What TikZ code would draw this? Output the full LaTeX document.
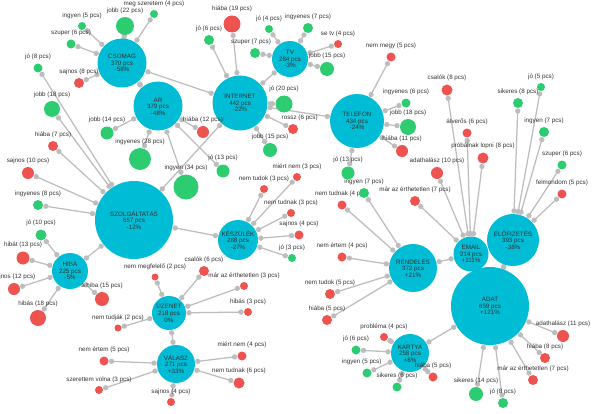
\documentclass[tikz,border=0pt]{standalone}
\usepackage{fontspec}
\setmainfont{Liberation Sans}
\pgfdeclarelayer{bg}
\pgfsetlayers{bg,main}
\definecolor{hubc}{HTML}{00BCD4}
\definecolor{grn}{HTML}{2ECC71}
\definecolor{rd}{HTML}{EF5350}
\definecolor{gl}{HTML}{BDBDBD}
\definecolor{txt}{HTML}{333333}
\newcommand\E[2]{\draw[lnk] (#1) -- (#2) node[gd,pos=0]{} node[gd,pos=1]{};}
\begin{document}
\begin{tikzpicture}[x=0.75pt,y=-0.75pt,
 every node/.style={font=\fontsize{4.7pt}{5pt}\selectfont, text=txt},
 hub/.style={circle,fill=hubc,inner sep=0pt,outer sep=2.25pt,align=center},
 leaf/.style={circle,inner sep=0pt,outer sep=2.25pt,label distance=-2.25pt},
 lg/.style={leaf,fill=grn},
 lr/.style={leaf,fill=rd},
 rad/.style={minimum size=1.5pt*#1},
 every label/.style={inner sep=0.2pt},
 gd/.style={circle,fill=gl,inner sep=0pt,minimum size=4pt,outer sep=0pt},
 lnk/.style={draw=gl,line width=0.95pt}]
\useasboundingbox (0,0) rectangle (600,414);
% hubs
\node[hub,rad=24.5] (cs) at (122,63) {CSOMAG\\370 pcs\\-58\%};
\node[hub,rad=24.5] (ar) at (158,106) {ÁR\\379 pcs\\-48\%};
\node[hub,rad=27.5] (int) at (240,103) {INTERNET\\442 pcs\\-22\%};
\node[hub,rad=18] (tv) at (290,59) {TV\\284 pcs\\-3\%};
\node[hub,rad=27] (tel) at (357,121) {TELEFON\\434 pcs\\-24\%};
\node[hub,rad=39] (sz) at (134,220) {SZOLGÁLTATÁS\\657 pcs\\-12\%};
\node[hub,rad=20] (kesz) at (238,240) {KÉSZÜLÉK\\288 pcs\\-27\%};
\node[hub,rad=18] (hiba) at (70,271) {HIBA\\225 pcs\\-5\%};
\node[hub,rad=17] (uz) at (169,313) {ÜZENET\\218 pcs\\0\%};
\node[hub,rad=19] (val) at (176,364) {VÁLASZ\\271 pcs\\+33\%};
\node[hub,rad=24] (ren) at (413,268) {RENDELÉS\\372 pcs\\+21\%};
\node[hub,rad=17.5] (em) at (471,254) {EMAIL\\214 pcs\\+111\%};
\node[hub,rad=26] (elo) at (513,240) {ELŐFIZETÉS\\393 pcs\\-38\%};
\node[hub,rad=39] (adat) at (490,306) {ADAT\\659 pcs\\+121\%};
\node[hub,rad=19] (kar) at (410,353) {KÁRTYA\\258 pcs\\+8\%};
% CSOMAG leaves
\node[lg,rad=4,label={above:meg szeretem (4 pcs)}] (c1) at (154,14) {};
\node[lg,rad=9,label={above:jobb (22 pcs)}] (c2) at (125,26) {};
\node[lg,rad=4,label={above:ingyen (5 pcs)}] (c3) at (82,26) {};
\node[lg,rad=4.5,label={above:szuper (6 pcs)}] (c4) at (71,44) {};
\node[lr,rad=5,label={above:sajnos (8 pcs)}] (c5) at (79,83) {};
% SZOLGALTATAS leaves
\node[lg,rad=4.5,label={above:jó (8 pcs)}] (s1) at (38,68) {};
\node[lg,rad=8,label={above:jobb (18 pcs)}] (s2) at (52,109) {};
\node[lr,rad=5,label={above:hiába (7 pcs)}] (s3) at (53,146) {};
\node[lr,rad=6,label={above:sajnos (10 pcs)}] (s4) at (28,173) {};
\node[lg,rad=5,label={above:ingyenes (8 pcs)}] (s5) at (38,205) {};
% AR leaves
\node[lg,rad=6.5,label={above:jobb (14 pcs)}] (a1) at (107,133) {};
\node[lg,rad=11,label={above:ingyenes (28 pcs)}] (a2) at (140,159) {};
\node[lg,rad=12.5,label={above:ingyen (34 pcs)}] (a3) at (186,187) {};
\node[lr,rad=6,label={above:hiába (12 pcs)}] (a4) at (203,132) {};
\node[lg,rad=6.5,label={above:jó (13 pcs)}] (a5) at (223,171) {};
% INTERNET leaves
\node[lr,rad=8.5,label={above:hiába (19 pcs)}] (i1) at (232,24) {};
\node[lg,rad=5,label={above:jó (6 pcs)}] (i2) at (209,40) {};
\node[lg,rad=8.5,label={above:jó (20 pcs)}] (i3) at (284,104) {};
\node[lr,rad=5,label={[xshift=5pt]above:rossz (6 pcs)}] (i4) at (293,129) {};
\node[lg,rad=7,label={above:jobb (15 pcs)}] (i5) at (270,150) {};
% TV leaves
\node[lg,rad=4,label={above:jó (4 pcs)}] (t1) at (269,29) {};
\node[lg,rad=5,label={above:ingyenes (7 pcs)}] (t2) at (308,28) {};
\node[lg,rad=5,label={[xshift=-3pt]above:szuper (7 pcs)}] (t3) at (255,53) {};
\node[lr,rad=4,label={above:se tv (4 pcs)}] (t4) at (338,44) {};
\node[lg,rad=7,label={above:jobb (15 pcs)}] (t5) at (327,69) {};
% TELEFON leaves
\node[lr,rad=4.5,label={above:nem megy (5 pcs)}] (p1) at (391,57) {};
\node[lg,rad=4.5,label={above:ingyenes (6 pcs)}] (p2) at (406,103) {};
\node[lg,rad=8,label={above:jobb (18 pcs)}] (p3) at (408,127) {};
\node[lr,rad=6,label={above:hiába (11 pcs)}] (p4) at (402,151) {};
\node[lg,rad=6.5,label={above:jó (13 pcs)}] (p5) at (348,173) {};
% KESZULEK leaves
\node[lr,rad=4,label={above:miért nem (3 pcs)}] (k1) at (297,177) {};
\node[lr,rad=4,label={above:nem tudok (3 pcs)}] (k2) at (264,189) {};
\node[lr,rad=4,label={above:nem tudnak (3 pcs)}] (k3) at (291,213) {};
\node[lr,rad=4.5,label={above:sajnos (4 pcs)}] (k4) at (299,235) {};
\node[lg,rad=4,label={above:jó (3 pcs)}] (k5) at (292,258) {};
% HIBA leaves
\node[lg,rad=5.5,label={above:jó (10 pcs)}] (h1) at (41,235) {};
\node[lr,rad=6.5,label={above:hibát (13 pcs)}] (h2) at (23,258) {};
\node[lr,rad=6,label={above:sajnos (12 pcs)}] (h3) at (14,289) {};
\node[lr,rad=8,label={above:hibás (18 pcs)}] (h4) at (38,318) {};
\node[lr,rad=7,label={above:a hiba (15 pcs)}] (h5) at (102,299) {};
% UZENET leaves
\node[lr,rad=3.5,label={above:nem megfelelő (2 pcs)}] (u1) at (155,277) {};
\node[lr,rad=5,label={above:csalók (6 pcs)}] (u2) at (204,271) {};
\node[lr,rad=4,label={above:már az érthetetlen (3 pcs)}] (u3) at (244,286) {};
\node[lr,rad=4,label={above:hibás (3 pcs)}] (u4) at (248,312) {};
\node[lr,rad=3.5,label={above:nem tudják (2 pcs)}] (u5) at (118,328) {};
% VALASZ leaves
\node[lr,rad=4.5,label={above:nem értem (5 pcs)}] (v1) at (104,361) {};
\node[lr,rad=4,label={above:szerettem volna (3 pcs)}] (v2) at (99,390) {};
\node[lr,rad=4,label={above:sajnos (4 pcs)}] (v3) at (171,402) {};
\node[lr,rad=4.5,label={above:miért nem (4 pcs)}] (v4) at (242,356) {};
\node[lr,rad=5.5,label={above:nem tudnak (6 pcs)}] (v5) at (239,383) {};
% RENDELES leaves
\node[lr,rad=4.5,label={above:nem tudnak (4 pcs)}] (r1) at (342,205) {};
\node[lg,rad=5,label={above:ingyen (7 pcs)}] (r2) at (364,193) {};
\node[lr,rad=4.5,label={above:nem értem (4 pcs)}] (r3) at (342,257) {};
\node[lr,rad=5,label={above:nem tudok (5 pcs)}] (r4) at (330,294) {};
\node[lr,rad=5,label={above:hiába (5 pcs)}] (r5) at (327,320) {};
% EMAIL leaves
\node[lr,rad=5,label={above:már az érthetetlen (7 pcs)}] (e1) at (415,201) {};
\node[lr,rad=6,label={above:adathalász (10 pcs)}] (e2) at (437,173) {};
\node[lr,rad=5.5,label={above:csalók (8 pcs)}] (e3) at (447,90) {};
\node[lr,rad=4.5,label={above:átverős (6 pcs)}] (e4) at (467,133) {};
\node[lr,rad=5.5,label={above:próbálnak lopni (8 pcs)}] (e5) at (483,158) {};
% ELOFIZETES leaves
\node[lg,rad=4,label={above:jó (5 pcs)}] (f1) at (541,87) {};
\node[lg,rad=5,label={above:sikeres (8 pcs)}] (f2) at (518,103) {};
\node[lg,rad=5,label={above:ingyen (7 pcs)}] (f3) at (544,132) {};
\node[lg,rad=4.5,label={above:szuper (6 pcs)}] (f4) at (562,165) {};
\node[lr,rad=4.5,label={above:felmondom (5 pcs)}] (f5) at (562,194) {};
% ADAT leaves
\node[lr,rad=6,label={above:adathalász (11 pcs)}] (d1) at (563,336) {};
\node[lr,rad=5,label={above:hiába (8 pcs)}] (d2) at (545,358) {};
\node[lr,rad=5,label={above:már az érthetetlen (7 pcs)}] (d3) at (533,380) {};
\node[lg,rad=7,label={above:sikeres (14 pcs)}] (d4) at (476,394) {};
\node[lg,rad=5,label={above:jó (8 pcs)}] (d5) at (503,403) {};
% KARTYA leaves
\node[lr,rad=4,label={above:probléma (4 pcs)}] (q1) at (384,337) {};
\node[lg,rad=4.5,label={above:jó (6 pcs)}] (q2) at (356,350) {};
\node[lg,rad=4.5,label={[xshift=-4pt]above:ingyen (5 pcs)}] (q3) at (367,373) {};
\node[lg,rad=4.5,label={above:sikeres (6 pcs)}] (q4) at (397,387) {};
\node[lr,rad=4.5,label={above:hiába (5 pcs)}] (q5) at (433,377) {};
% edges
\begin{pgfonlayer}{bg}
\E{cs}{c1}\E{cs}{c2}\E{cs}{c3}\E{cs}{c4}\E{cs}{c5}\E{cs}{ar}\E{cs}{int}
\E{ar}{a1}\E{ar}{a2}\E{ar}{a3}\E{ar}{a4}\E{ar}{a5}
\E{int}{i1}\E{int}{i2}\E{int}{i3}\E{int}{i4}\E{int}{i5}\E{int}{tv}\E{int}{tel}\E{int}{sz}
\E{tv}{t1}\E{tv}{t2}\E{tv}{t3}\E{tv}{t4}\E{tv}{t5}
\E{tel}{p1}\E{tel}{p2}\E{tel}{p3}\E{tel}{p4}\E{tel}{p5}
\E{sz}{s1}\E{sz}{s2}\E{sz}{s3}\E{sz}{s4}\E{sz}{s5}\E{sz}{hiba}\E{sz}{kesz}
\E{kesz}{k1}\E{kesz}{k2}\E{kesz}{k3}\E{kesz}{k4}\E{kesz}{k5}
\E{hiba}{h1}\E{hiba}{h2}\E{hiba}{h3}\E{hiba}{h4}\E{hiba}{h5}
\E{uz}{u1}\E{uz}{u2}\E{uz}{u3}\E{uz}{u4}\E{uz}{u5}\E{uz}{val}
\E{val}{v1}\E{val}{v2}\E{val}{v3}\E{val}{v4}\E{val}{v5}
\E{ren}{r1}\E{ren}{r2}\E{ren}{r3}\E{ren}{r4}\E{ren}{r5}\E{ren}{em}
\E{em}{e1}\E{em}{e2}\E{em}{e3}\E{em}{e4}\E{em}{e5}
\E{elo}{f1}\E{elo}{f2}\E{elo}{f3}\E{elo}{f4}\E{elo}{f5}\E{elo}{adat}
\E{adat}{d1}\E{adat}{d2}\E{adat}{d3}\E{adat}{d4}\E{adat}{d5}\E{adat}{kar}
\E{kar}{q1}\E{kar}{q2}\E{kar}{q3}\E{kar}{q4}\E{kar}{q5}
\end{pgfonlayer}
\end{tikzpicture}
\end{document}
